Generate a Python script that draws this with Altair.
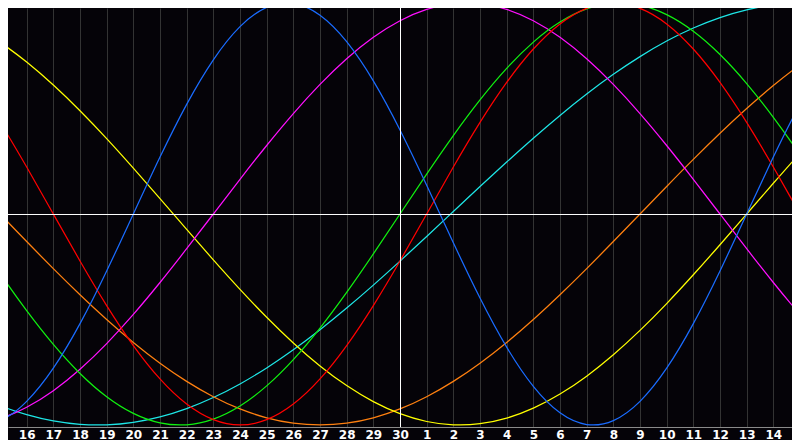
import altair as alt
import pandas as pd

# day offsets relative to "today" (the 30th, white vertical line)
day_offset = [-16, -15, -14, -13, -12, -11, -10, -9, -8, -7, -6, -5, -4, -3, -2, -1,
              0, 1, 2, 3, 4, 5, 6, 7, 8, 9, 10, 11, 12, 13, 14, 15, 16]

# tick positions and their day-of-month labels
tick_offset = [-14, -13, -12, -11, -10, -9, -8, -7, -6, -5, -4, -3, -2, -1, 0,
               1, 2, 3, 4, 5, 6, 7, 8, 9, 10, 11, 12, 13, 14]

# curve values (one per day)
physical = [-0.9977, -0.9791, -0.8879, -0.7308, -0.5196, -0.2698, 0.0, 0.2698, 0.5196,
            0.7308, 0.8879, 0.9791, 0.9977, 0.9423, 0.8170, 0.6311, 0.3984, 0.1362,
            -0.1362, -0.3984, -0.6311, -0.8170, -0.9423, -0.9977, -0.9791, -0.8879,
            -0.7308, -0.5196, -0.2698, 0.0, 0.2698, 0.5196, 0.7308]
emotional = [0.6235, 0.4339, 0.2225, 0.0, -0.2225, -0.4339, -0.6235, -0.7818, -0.9010,
             -0.9749, -1.0, -0.9749, -0.9010, -0.7818, -0.6235, -0.4339, -0.2225, 0.0,
             0.2225, 0.4339, 0.6235, 0.7818, 0.9010, 0.9749, 1.0, 0.9749, 0.9010,
             0.7818, 0.6235, 0.4339, 0.2225, 0.0, -0.2225]
intellectual = [-0.0951, -0.2817, -0.4582, -0.6182, -0.7557, -0.8660, -0.9450, -0.9898,
                -0.9989, -0.9718, -0.9096, -0.8146, -0.6901, -0.5406, -0.3717, -0.1893,
                0.0, 0.1893, 0.3717, 0.5406, 0.6901, 0.8146, 0.9096, 0.9718, 0.9989,
                0.9898, 0.9450, 0.8660, 0.7557, 0.6182, 0.4582, 0.2817, 0.0951]
intuitive = [-0.9966, -0.9694, -0.9158, -0.8372, -0.7357, -0.6142, -0.4759, -0.3247,
             -0.1646, 0.0, 0.1646, 0.3247, 0.4759, 0.6142, 0.7357, 0.8372, 0.9158,
             0.9694, 0.9966, 0.9966, 0.9694, 0.9158, 0.8372, 0.7357, 0.6142, 0.4759,
             0.3247, 0.1646, 0.0, -0.1646, -0.3247, -0.4759, -0.6142]
aesthetic = [0.8893, 0.8133, 0.7201, 0.6112, 0.4894, 0.3572, 0.2174, 0.0731, -0.0731,
             -0.2174, -0.3572, -0.4894, -0.6112, -0.7201, -0.8133, -0.8893, -0.9464,
             -0.9834, -0.9993, -0.9940, -0.9675, -0.9203, -0.8533, -0.7684, -0.6671,
             -0.5517, -0.4245, -0.2881, -0.1456, 0.0, 0.1456, 0.2881, 0.4245]
awareness = [0.1305, 0.0, -0.1305, -0.2588, -0.3827, -0.5, -0.6088, -0.7071, -0.7934,
             -0.8660, -0.9239, -0.9659, -0.9914, -1.0, -0.9914, -0.9659, -0.9239,
             -0.8660, -0.7934, -0.7071, -0.6088, -0.5, -0.3827, -0.2588, -0.1305, 0.0,
             0.1305, 0.2588, 0.3827, 0.5, 0.6088, 0.7071, 0.7934]
spiritual = [-0.8520, -0.9078, -0.9511, -0.9809, -0.9970, -0.9991, -0.9872, -0.9615,
             -0.9222, -0.8699, -0.8054, -0.7297, -0.6439, -0.5488, -0.4460, -0.3371,
             -0.2234, -0.1065, 0.0119, 0.1300, 0.2464, 0.3593, 0.4672, 0.5684, 0.6618,
             0.7459, 0.8196, 0.8814, 0.9311, 0.9677, 0.9907, 0.9998, 0.9949]

series_names = ["spiritual", "awareness", "aesthetic", "intuitive",
                "intellectual", "emotional", "physical"]
series_values = [spiritual, awareness, aesthetic, intuitive,
                 intellectual, emotional, physical]
series_colors = ["#1ee6e6", "#ff8010", "#ffff00", "#ff10ff",
                 "#10f010", "#ff0000", "#1a6cff"]

rows = []
for order, (name, vals) in enumerate(zip(series_names, series_values)):
    for t, v in zip(day_offset, vals):
        rows.append({"series": name, "order": order, "t": t, "v": v})
df = pd.DataFrame(rows)

label_expr = "datum.value <= 0 ? datum.value + 30 : datum.value"

x_axis = alt.Axis(
    values=tick_offset, grid=True, gridColor="#333333", gridWidth=1,
    domainColor="#8a8a8a", domainWidth=1, ticks=False,
    labelExpr=label_expr, labelColor="white", labelFont="DejaVu Sans",
    labelFontSize=12, labelFontWeight="bold", labelPadding=2,
    labelFlush=False, labelOverlap=False, title=None,
)
x_scale = alt.Scale(domain=[-14.7, 14.7], nice=False, zero=False)
y_scale = alt.Scale(domain=[-1.0095, 0.9763], nice=False, zero=False)

lines = alt.Chart(df).mark_line(strokeWidth=1.25, interpolate="natural", clip=True).encode(
    x=alt.X("t:Q", scale=x_scale, axis=x_axis),
    y=alt.Y("v:Q", scale=y_scale, axis=None),
    color=alt.Color("series:N", scale=alt.Scale(domain=series_names, range=series_colors),
                    legend=None),
    order=alt.Order("t:Q"),
    detail="series:N",
)

hline = alt.Chart(pd.DataFrame({"v": [0.0]})).mark_rule(
    color="white", strokeWidth=1, yOffset=0.5
).encode(
    y=alt.Y("v:Q", scale=y_scale, axis=None)
)
vline = alt.Chart(pd.DataFrame({"t": [0]})).mark_rule(
    color="white", strokeWidth=1, xOffset=0.5
).encode(
    x=alt.X("t:Q", scale=x_scale, axis=x_axis)
)

chart = alt.layer(lines, hline, vline).properties(
    width=784, height=419,
    background="#050308",
    padding={"left": 0, "right": 0, "top": 0, "bottom": 13},
    autosize=alt.AutoSizeParams(type="none"),
).configure_view(stroke=None)

chart.save("out.html", embed_options={"renderer": "svg", "actions": False})
